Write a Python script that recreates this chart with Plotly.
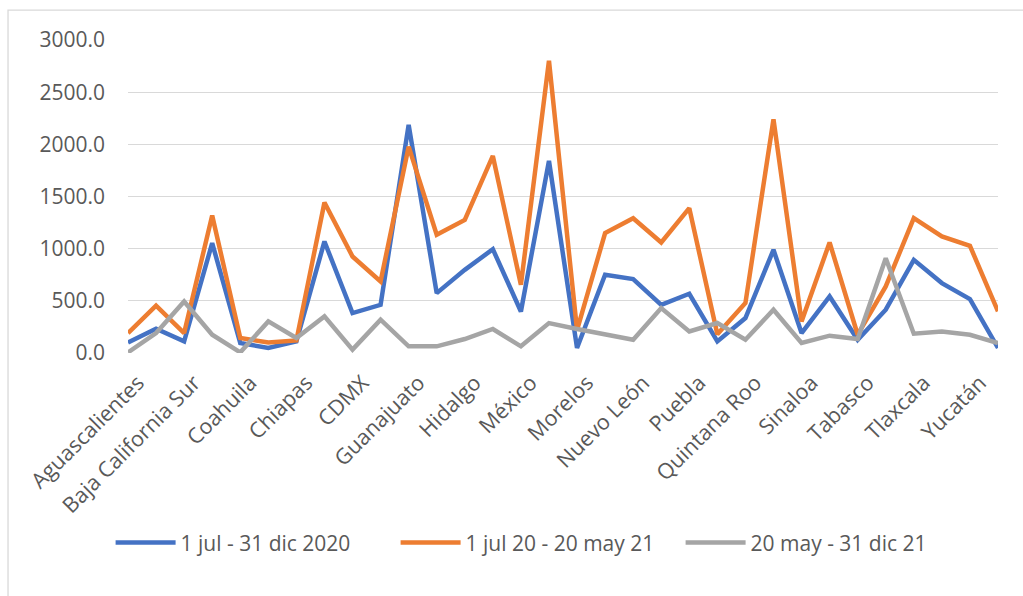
import plotly.graph_objects as go

# Mexican states (x-axis categories)
states = [
    "Aguascalientes", "Baja California", "Baja California Sur", "Campeche",
    "Coahuila", "Colima", "Chiapas", "Chihuahua", "CDMX", "Durango",
    "Guanajuato", "Guerrero", "Hidalgo", "Jalisco", "México", "Michoacán",
    "Morelos", "Nayarit", "Nuevo León", "Oaxaca", "Puebla", "Querétaro",
    "Quintana Roo", "San Luis Potosí", "Sinaloa", "Sonora", "Tabasco",
    "Tamaulipas", "Tlaxcala", "Veracruz", "Yucatán", "Zacatecas",
]

# Series values per state
period_2020 = [101, 233, 111, 1053, 96, 48, 111, 1069, 383, 462,
               2186, 574, 797, 995, 398, 1841, 48, 750, 708, 462,
               568, 111, 335, 989, 191, 542, 127, 415, 893, 670, 517, 48]
period_20_21 = [191, 453, 191, 1318, 144, 101, 121, 1442, 925, 686,
                1978, 1133, 1276, 1889, 654, 2802, 220, 1149, 1292, 1059,
                1388, 180, 479, 2240, 303, 1059, 175, 638, 1292, 1117, 1027, 399]
period_21 = [6, 191, 494, 175, 6, 303, 144, 351, 32, 319,
             64, 64, 134, 230, 64, 287, 230, 175, 127, 431,
             207, 287, 127, 415, 96, 166, 134, 909, 185, 207, 175, 96]

series_names = ["1 jul - 31 dic 2020", "1 jul 20 - 20 may 21", "20 may - 31 dic 21"]
series_colors = ["#4472C4", "#ED7D31", "#A5A5A5"]

# Every other state gets a label on the category axis
tick_states = states[::2]
y_ticks = [0, 500, 1000, 1500, 2000, 2500, 3000]

FONT = "Open Sans, Lato, sans-serif"
TEXT = "#595959"

fig = go.Figure()
for name, vals, color in zip(series_names, [period_2020, period_20_21, period_21], series_colors):
    fig.add_trace(go.Scatter(
        x=states, y=vals, name=name, mode="lines",
        line=dict(color=color, width=4.5),
    ))

fig.update_layout(
    width=1023, height=596,
    margin=dict(l=128, r=25, t=40, b=243, autoexpand=False),
    paper_bgcolor="white", plot_bgcolor="white",
    font=dict(family=FONT, size=21, color=TEXT),
    showlegend=True,
    legend=dict(
        orientation="h", xref="container", yref="container",
        x=0.526, xanchor="center", y=0.089, yanchor="middle",
        font=dict(family=FONT, size=21, color=TEXT),
        itemwidth=60, entrywidth=210,
    ),
    xaxis=dict(
        type="category", tickmode="array", tickvals=tick_states, ticktext=tick_states,
        tickangle=-45, showgrid=False, showline=False, zeroline=False,
        ticks="", automargin=False, ticklabelstandoff=12, ticklabelshift=10,
        tickfont=dict(family=FONT, size=21.5, color=TEXT),
    ),
    yaxis=dict(
        range=[0, 3000], tickmode="array", tickvals=y_ticks,
        ticktext=[f"{v:.1f}" for v in y_ticks],
        showgrid=True, gridcolor="#D9D9D9", gridwidth=1.3,
        zeroline=False, showline=False, ticks="", automargin=False,
        ticklabelstandoff=22, tickfont=dict(family=FONT, size=21, color=TEXT),
    ),
    shapes=[dict(
        type="rect", xref="paper", yref="paper",
        x0=-0.1379, x1=1.2, y0=-1.2, y1=1.0957,
        line=dict(color="#D9D9D9", width=1.3), fillcolor="rgba(0,0,0,0)",
        layer="below",
    )],
)

fig.write_html("out.html")
